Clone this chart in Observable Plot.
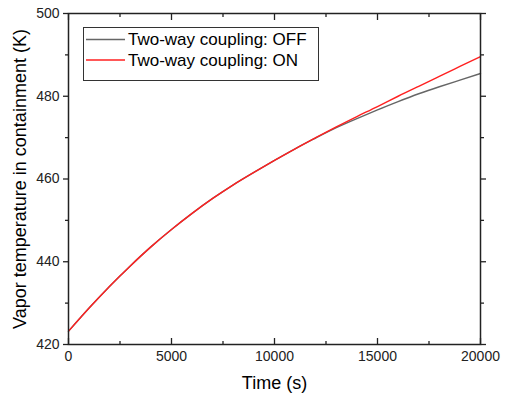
<!DOCTYPE html>
<html>
<head>
<meta charset="utf-8">
<script src="https://cdn.jsdelivr.net/npm/d3@7"></script>
<script src="https://cdn.jsdelivr.net/npm/@observablehq/plot@0.6"></script>
<style>
  body { margin: 0; background: #fff; }
  #wrap { position: relative; width: 505px; height: 396px; font-family: "Liberation Sans", Arial, sans-serif; }
  #legend { position: absolute; left: 83px; top: 27px; }
</style>
</head>
<body>
<div id="wrap">
  <div id="chart"></div>
  <svg id="legend" width="236" height="54"></svg>
</div>
<script>
// ---- data ----
const times = [0, 1000, 2000, 3000, 4000, 5000, 6000, 7000, 8000, 9000, 10000,
               11000, 12000, 13000, 14000, 15000, 16000, 17000, 18000, 19000, 20000];
const offValues = [423.2, 428.8, 434.1, 439.0, 443.6, 447.8, 451.7, 455.3, 458.6, 461.6, 464.5,
                   467.3, 469.9, 472.4, 474.6, 476.7, 478.7, 480.6, 482.3, 483.9, 485.5];
const onValues  = [423.2, 428.8, 434.1, 439.0, 443.6, 447.8, 451.7, 455.3, 458.6, 461.6, 464.5,
                   467.3, 470.0, 472.6, 475.1, 477.5, 480.0, 482.4, 484.8, 487.2, 489.6];
const seriesNames = ["Two-way coupling: OFF", "Two-way coupling: ON"];
const seriesColors = ["#666666", "#ff2020"];
const majorX = [0, 5000, 10000, 15000, 20000];
const minorX = [2500, 7500, 12500, 17500];
const majorY = [420, 440, 460, 480, 500];
const minorY = [430, 450, 470, 490];
const xTitle = "Time (s)";
const yTitle = "Vapor temperature in containment (K)";

const rows = [];
times.forEach((t, i) => {
  rows.push({t, v: offValues[i], s: seriesNames[0]});
});
times.forEach((t, i) => {
  rows.push({t, v: onValues[i], s: seriesNames[1]});
});

const axisColor = "#222";
const noText = () => "";
const plain = d => String(d);

const chart = Plot.plot({
  width: 505,
  height: 396,
  marginLeft: 68,
  marginRight: 25,
  marginTop: 13,
  marginBottom: 52,
  style: { fontFamily: "Liberation Sans, Arial, sans-serif", color: axisColor, background: "#fff" },
  x: { domain: [0, 20000] },
  y: { domain: [420, 500] },
  color: { domain: seriesNames, range: seriesColors },
  marks: [
    Plot.line(rows.filter(d => d.s === seriesNames[0]), { x: "t", y: "v", stroke: "s", strokeWidth: 1.4, curve: "natural" }),
    Plot.line(rows.filter(d => d.s === seriesNames[1]), { x: "t", y: "v", stroke: "s", strokeWidth: 1.4, curve: "natural" }),
    // bottom
    Plot.axisX(majorX, { anchor: "bottom", tickSize: 0, tickPadding: 7, fontSize: 14, label: null, tickFormat: plain }),
    Plot.axisX(majorX, { anchor: "bottom", tickSize: -6, tickFormat: noText, label: null, strokeWidth: 1.3 }),
    Plot.axisX(minorX, { anchor: "bottom", tickSize: -3, tickFormat: noText, label: null, strokeWidth: 1.3 }),
    // top
    Plot.axisX(majorX, { anchor: "top", tickSize: -6, tickFormat: noText, label: null, strokeWidth: 1.3 }),
    Plot.axisX(minorX, { anchor: "top", tickSize: -3, tickFormat: noText, label: null, strokeWidth: 1.3 }),
    // left
    Plot.axisY(majorY, { anchor: "left", tickSize: 5, tickPadding: 4, fontSize: 14, label: null, strokeWidth: 1.3, tickFormat: plain }),
    Plot.axisY(minorY, { anchor: "left", tickSize: 3, tickFormat: noText, label: null, strokeWidth: 1.3 }),
    // right
    Plot.axisY(majorY, { anchor: "right", tickSize: 5, tickFormat: noText, label: null, strokeWidth: 1.3 }),
    Plot.axisY(minorY, { anchor: "right", tickSize: 3, tickFormat: noText, label: null, strokeWidth: 1.3 }),
    Plot.frame({ stroke: axisColor, strokeWidth: 1.5 }),
    Plot.text([xTitle], { frameAnchor: "bottom", dy: 39, text: d => d, fontSize: 18, lineAnchor: "middle", textAnchor: "middle", fill: "#000" }),
    Plot.text([yTitle], { frameAnchor: "left", dx: -48, rotate: -90, text: d => d, fontSize: 18, lineAnchor: "middle", textAnchor: "middle", fill: "#000" })
  ]
});
document.getElementById("chart").appendChild(chart);

// legend
const lg = d3.select("#legend");
lg.append("rect").attr("x", 0.5).attr("y", 0.5).attr("width", 235).attr("height", 53)
  .attr("fill", "#fff").attr("stroke", "#333").attr("stroke-width", 1);
seriesNames.forEach((name, i) => {
  const yy = 12.5 + i * 20.5;
  lg.append("line").attr("x1", 3).attr("x2", 42).attr("y1", yy).attr("y2", yy)
    .attr("stroke", seriesColors[i]).attr("stroke-width", 1.5);
  lg.append("text").attr("x", 45).attr("y", yy).attr("dy", "0.35em")
    .attr("font-size", 17).attr("font-family", "Liberation Sans, Arial, sans-serif")
    .attr("fill", "#000").text(name);
});
</script>
</body>
</html>
